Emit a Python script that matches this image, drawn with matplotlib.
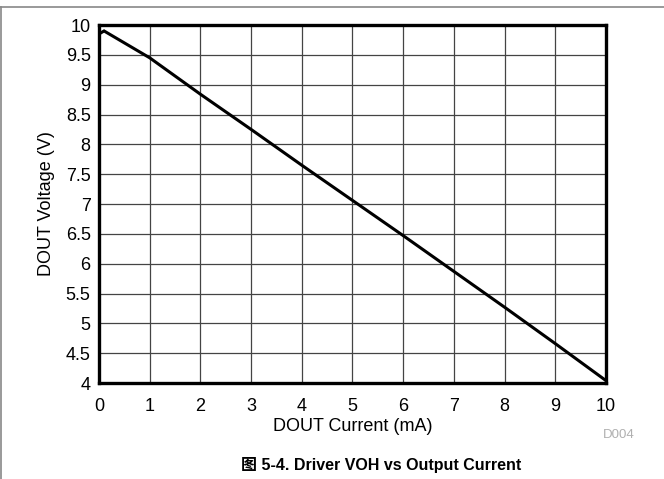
import matplotlib
matplotlib.use("Agg")
import matplotlib.pyplot as plt
from matplotlib.lines import Line2D

plt.rcParams['font.family'] = ['Liberation Sans', 'Noto Sans CJK SC', 'DejaVu Sans']

current = [0, 0.1, 1, 2, 3, 4, 5, 6, 7, 8, 9, 10]
voltage = [9.85, 9.9, 9.45, 8.84, 8.25, 7.65, 7.06, 6.47, 5.87, 5.27, 4.66, 4.04]
xticks = list(range(0, 11))
yticks = [4, 4.5, 5, 5.5, 6, 6.5, 7, 7.5, 8, 8.5, 9, 9.5, 10]
ytick_labels = ["4", "4.5", "5", "5.5", "6", "6.5", "7", "7.5", "8", "8.5", "9", "9.5", "10"]

fig = plt.figure(figsize=(6.64, 4.79), dpi=100)
ax = fig.add_axes([99/664, 1-383/479, (606-99)/664, (383-25)/479])

ax.plot(current, voltage, color="black", lw=2.2, solid_joinstyle="miter")
ax.set_xlim(0, 10)
ax.set_ylim(4, 10)
ax.set_xticks(xticks)
ax.set_yticks(yticks)
ax.set_yticklabels(ytick_labels)
ax.grid(True, color="#444444", lw=0.9)
ax.set_axisbelow(True)
ax.tick_params(length=0, labelsize=13)
ax.tick_params(axis="x", pad=11)
ax.tick_params(axis="y", pad=6)
for s in ax.spines.values():
    s.set_linewidth(2.4)
ax.set_xlabel("DOUT Current (mA)", fontsize=13, labelpad=2)
ax.set_ylabel("DOUT Voltage (V)", fontsize=13, labelpad=8)

fig.text(619/664, 1-435/479, "D004", fontsize=9.5, color="#b0b0b0", ha="center", va="center")
fig.text(381/664, 1-465/479, "图 5-4. Driver VOH vs Output Current", fontsize=11.5,
         fontweight="bold", ha="center", va="center")

# outer frame: top and left lines
fig.add_artist(Line2D([0, 1], [1-6.5/479, 1-6.5/479], color="#888888", lw=1.2, transform=fig.transFigure))
fig.add_artist(Line2D([0.6/664, 0.6/664], [0, 1-6.5/479], color="#888888", lw=1.2, transform=fig.transFigure))

fig.savefig("out.png", dpi=100)
